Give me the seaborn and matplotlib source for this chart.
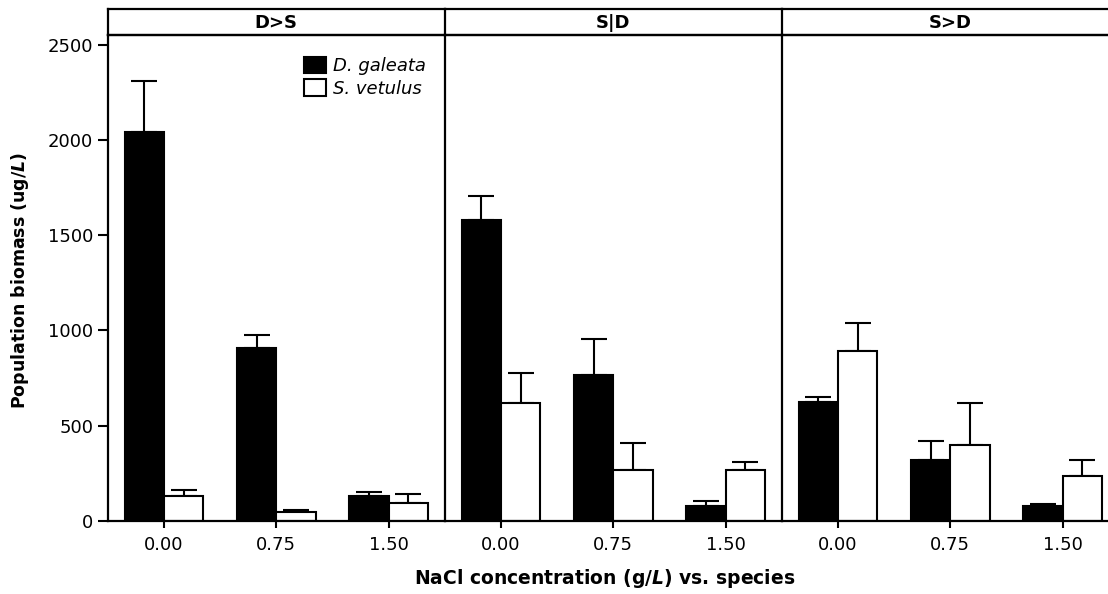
import seaborn as sns
import matplotlib.pyplot as plt
import pandas as pd
import numpy as np

# -----------------------------
# Data
# -----------------------------
treatments = ["D>S", "S|D", "S>D"]
nacl = ["0.00", "0.75", "1.50"]
species = ["D. galeata", "S. vetulus"]

# mean biomass per treatment, NaCl level
galeata_mean = {"D>S": [2044, 908, 130], "S|D": [1580, 766, 77], "S>D": [624, 319, 77]}
galeata_err = {"D>S": [267, 68, 19], "S|D": [126, 189, 28], "S>D": [28, 100, 9]}
vetulus_mean = {"D>S": [130, 44, 95], "S|D": [620, 264, 264], "S>D": [892, 399, 233]}
vetulus_err = {"D>S": [29, 12, 43], "S|D": [156, 146, 42], "S>D": [147, 221, 84]}

rows = []
for t in treatments:
    for i, c in enumerate(nacl):
        rows.append({"Treatment": t, "NaCl": c, "Species": species[0], "Biomass": galeata_mean[t][i], "Err": galeata_err[t][i]})
        rows.append({"Treatment": t, "NaCl": c, "Species": species[1], "Biomass": vetulus_mean[t][i], "Err": vetulus_err[t][i]})
df = pd.DataFrame(rows)

# -----------------------------
# Plot
# -----------------------------
sns.set_style("white")
plt.rcParams["font.family"] = ["DejaVu Sans"]
plt.rcParams["mathtext.fontset"] = "dejavusans"
plt.rcParams["text.color"] = "black"
plt.rcParams["xtick.color"] = "black"
plt.rcParams["ytick.color"] = "black"

W, H = 1108, 594
fig = plt.figure(figsize=(W / 100, H / 100), dpi=100)

left_px, panel_px = 107.7, 337
bottom_px, top_px, strip_top_px = 520.7, 34.7, 9.3
lw = 1.6

for k, t in enumerate(treatments):
    x0 = (left_px + k * panel_px) / W
    ax = fig.add_axes([x0, (H - bottom_px) / H, panel_px / W, (bottom_px - top_px) / H])
    sub = df[df["Treatment"] == t]
    sns.barplot(data=sub, x="NaCl", y="Biomass", hue="Species", order=nacl, hue_order=species,
                palette={"D. galeata": "black", "S. vetulus": "white"}, edgecolor="black",
                linewidth=1.5, width=0.7, errorbar=None, ax=ax, legend=(k == 0))
    for cont in ax.containers:
        for b in cont:
            b.set_zorder(2)

    # one-sided error bars, drawn behind the bars
    for cont, sp in zip(ax.containers, species):
        errs = sub[sub["Species"] == sp].set_index("NaCl").loc[nacl, "Err"].values
        xs = [b.get_x() + b.get_width() / 2 for b in cont]
        hs = [b.get_height() for b in cont]
        ax.errorbar(xs, hs, yerr=[np.zeros(len(errs)), errs], fmt="none", ecolor="black",
                    elinewidth=1.5, capsize=9.5, capthick=1.5, zorder=1)

    ax.set_xlim(-0.5, 2.5)
    ax.set_ylim(0, 2554)
    ax.set_xlabel("")
    ax.set_ylabel("")
    ax.spines["right"].set_visible(False)
    for s in ["left", "top", "bottom"]:
        ax.spines[s].set_linewidth(lw)
        ax.spines[s].set_color("black")
        ax.spines[s].set_zorder(3)
    ax.tick_params(axis="x", bottom=True, length=5, width=1.5, labelsize=13, pad=6)
    if k == 0:
        ax.set_yticks([0, 500, 1000, 1500, 2000, 2500])
        ax.tick_params(axis="y", left=True, length=7, width=1.5, labelsize=13)
        ax.legend(loc="upper right", bbox_to_anchor=(0.945, 0.955), frameon=False,
                  prop={"style": "italic", "size": 13}, handlelength=1.2, handleheight=1.0,
                  handletextpad=0.4, labelspacing=0.25, borderaxespad=0, borderpad=0)
    else:
        ax.set_yticks([])

    # strip on top
    sx = fig.add_axes([x0, (H - top_px) / H, panel_px / W, (top_px - strip_top_px) / H])
    sx.patch.set_alpha(0)
    sx.set_xticks([])
    sx.set_yticks([])
    sx.spines["right"].set_visible(False)
    for s in ["left", "top", "bottom"]:
        sx.spines[s].set_linewidth(lw)
        sx.spines[s].set_color("black")
    sx.text(0.5, 0.45, t, ha="center", va="center", fontsize=13, fontweight="bold", transform=sx.transAxes)

fig.text(20 / W, 1 - 280 / H, r"Population biomass (ug/$\mathbfit{L}$)", rotation=90,
         ha="center", va="center", fontsize=12.5, fontweight="bold")
fig.text(605 / W, 1 - 578 / H, r"NaCl concentration (g/$\mathbfit{L}$) vs. species",
         ha="center", va="center", fontsize=13.5, fontweight="bold")

plt.savefig("out.png", dpi=100)
plt.close()
